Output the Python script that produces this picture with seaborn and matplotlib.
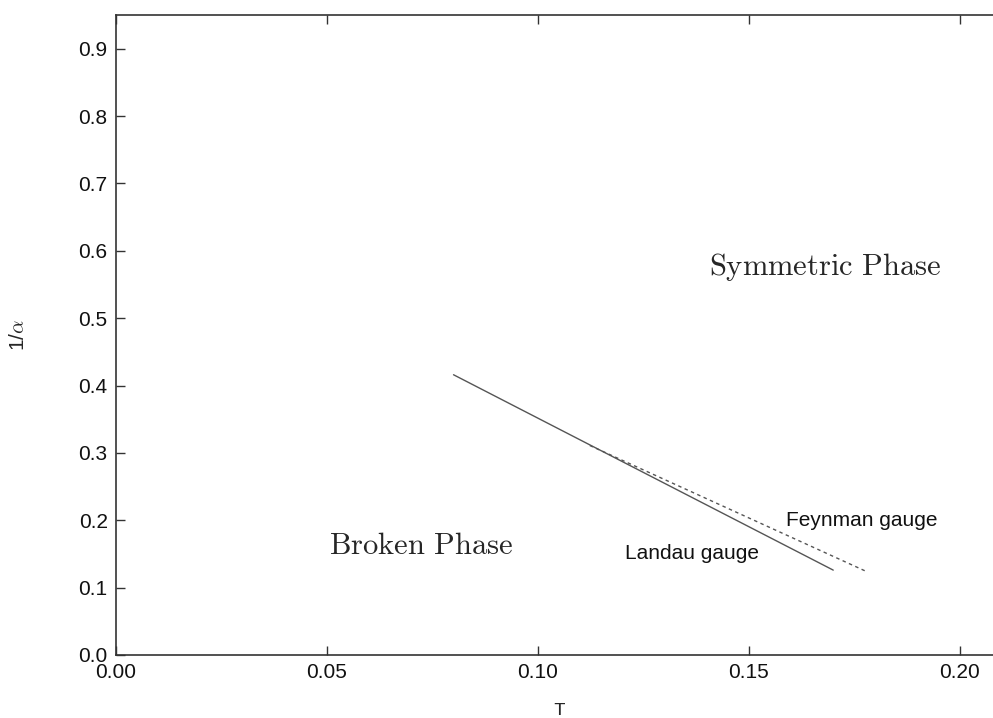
import matplotlib
matplotlib.use("Agg")
import matplotlib.pyplot as plt
import seaborn as sns
import pandas as pd

# Data
landau_T = [0.080, 0.125, 0.170]
landau_inv_alpha = [0.416, 0.271, 0.126]
feynman_T = [0.1123, 0.1775]
feynman_inv_alpha = [0.311, 0.125]

x_ticks = [0.00, 0.05, 0.10, 0.15, 0.20]
y_ticks = [0.0, 0.1, 0.2, 0.3, 0.4, 0.5, 0.6, 0.7, 0.8, 0.9]

sns.set_style("ticks")
plt.rcParams["font.family"] = ["Liberation Sans", "DejaVu Sans"]
plt.rcParams["mathtext.fontset"] = "cm"

fig = plt.figure(figsize=(9.93, 7.18), dpi=100)
ax = fig.add_axes([116 / 993, 1 - 655 / 718, (1002 - 116) / 993, (655 - 15) / 718])

df_l = pd.DataFrame({"T": landau_T, "inv": landau_inv_alpha})
df_f = pd.DataFrame({"T": feynman_T, "inv": feynman_inv_alpha})
sns.lineplot(data=df_l, x="T", y="inv", ax=ax, color="#555555", linewidth=1.0)
sns.lineplot(data=df_f, x="T", y="inv", ax=ax, color="#555555", linewidth=1.0,
             linestyle=(0, (2.5, 2.5)))

ax.set_xlim(0, 0.21)
ax.set_ylim(0, 0.95)
ax.set_xticks(x_ticks)
ax.set_xticklabels([f"{v:.2f}" for v in x_ticks])
ax.set_yticks(y_ticks)
ax.set_yticklabels([f"{v:.1f}" for v in y_ticks])

for s in ax.spines.values():
    s.set_linewidth(1.2)
    s.set_color("#333333")
ax.tick_params(direction="in", length=6.5, width=1.0, color="#333333",
               top=True, right=True, labelsize=15, labelcolor="#111111", pad=6)

ax.set_xlabel("T", family=["Liberation Mono", "DejaVu Sans Mono"], fontsize=14, labelpad=14)
ax.set_ylabel(r"1/$\alpha$", fontsize=15, labelpad=36)

ax.text(0.168, 0.576, r"$\mathrm{Symmetric\ Phase}$", fontsize=22, ha="center", va="center")
ax.text(0.0723, 0.162, r"$\mathrm{Broken\ Phase}$", fontsize=22, ha="center", va="center")
ax.text(0.1366, 0.150, "Landau gauge", fontsize=15, ha="center", va="center", color="#111111")
ax.text(0.1768, 0.200, "Feynman gauge", fontsize=15, ha="center", va="center", color="#111111")

fig.savefig("out.png", dpi=100)
